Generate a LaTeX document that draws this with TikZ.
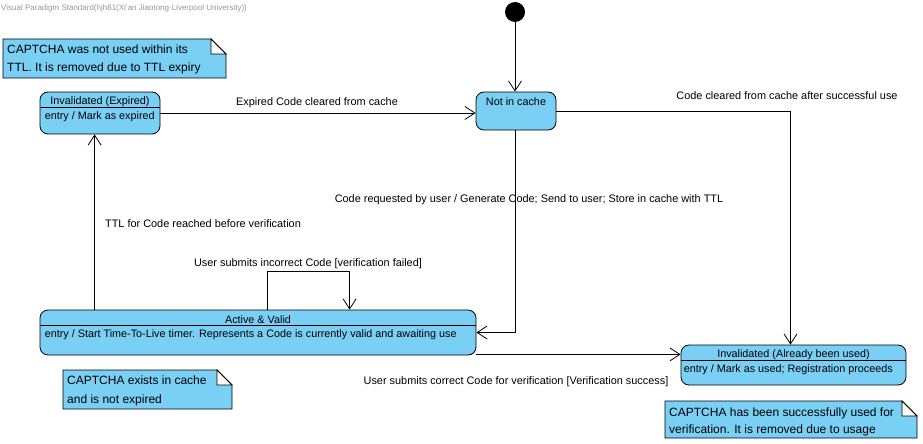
\documentclass[tikz,border=0pt]{standalone}
\usepackage{fontspec}
\setmainfont{Liberation Sans}
\usetikzlibrary{arrows.meta,calc}
\definecolor{stateblue}{RGB}{122,207,245}
\definecolor{headgray}{RGB}{150,150,150}

\tikzset{
    state/.style={draw, fill=stateblue, rounded corners=8pt, line width=0.8pt, inner sep=0pt},
    trans/.style={line width=0.8pt, -{Straight Barb[length=10pt,width=13pt]}},
    txt/.style={font=\fontsize{10.8}{12}\selectfont, inner sep=0pt},
    lbl/.style={font=\fontsize{10.9}{12}\selectfont, inner sep=0pt, yshift=-1.5pt},
    note/.style={draw, fill=stateblue, line width=0.8pt},
    fold/.style={draw, fill=white, line width=0.8pt},
    notetext/.style={font=\fontsize{12}{18.5}\selectfont, align=left, anchor=west, inner sep=0pt}
}

\begin{document}
\begin{tikzpicture}[x=1pt, y=-1pt]
    \useasboundingbox (0,0) rectangle (923,444);

    % header
    \node[anchor=west, text=headgray, font=\fontsize{8}{9}\selectfont, inner sep=0pt] (header) at (1,8)
        {Visual Paradigm Standard(hjh81(Xi'an Jiaotong-Liverpool University))};

    % initial state
    \node[circle, fill=black, minimum size=20pt, inner sep=0pt] (init) at (515,12) {};

    % states
    \node[state, minimum width=80pt, minimum height=38pt] (notcache) at (516,111) {};
    \node[txt] (notcachename) at ($(notcache.north)+(0,10.5)$) {Not in cache};

    \node[state, minimum width=120pt, minimum height=42pt] (expired) at (100,113) {};
    \node[txt] (expiredname) at ($(expired.north)+(0,10.5)$) {Invalidated (Expired)};
    \draw[line width=0.8pt] ($(expired.north west)+(0,16)$) -- ($(expired.north east)+(0,16)$);
    \node[txt, anchor=west] (expiredentry) at ($(expired.north west)+(5,25.5)$) {entry / Mark as expired};

    \node[state, minimum width=436pt, minimum height=45pt] (active) at (258,332.5) {};
    \node[txt] (activename) at ($(active.north)+(0,10.5)$) {Active \& Valid};
    \draw[line width=0.8pt] ($(active.north west)+(0,16)$) -- ($(active.north east)+(0,16)$);
    \node[txt, anchor=west] (activeentry) at ($(active.north west)+(5,25.5)$)
        {entry / Start Time-To-Live timer. Represents a Code is currently valid and awaiting use};

    \node[state, minimum width=225pt, minimum height=40pt] (used) at (793.5,365) {};
    \node[txt] (usedname) at ($(used.north)+(0,10.5)$) {Invalidated (Already been used)};
    \draw[line width=0.8pt] ($(used.north west)+(0,16)$) -- ($(used.north east)+(0,16)$);
    \node[txt, anchor=west] (usedentry) at ($(used.north west)+(3,25.5)$) {entry / Mark as used; Registration proceeds};

    % transitions
    \coordinate (succstart) at ($(active.south east)+(0,-1)$);
    \draw[trans] (init) -- (init |- notcache.north);
    \draw[trans] (expired.east) -- (notcache.west |- expired.east);
    \draw[trans] (notcache.east) -| ($(used.north)+(-3,0)$);
    \draw[trans] (notcache.south -| init) |- (active.east);
    \draw[trans] ($(active.north west)+(55,0)$) -- ($(expired.south west)+(55,0)$);
    \draw[trans] ($(active.north west)+(228,0)$) -- ++(0,-38) -| ($(active.north west)+(310,0)$);
    \draw[trans] (succstart) -- (succstart -| used.west);

    % transition labels
    \node[lbl] (lblexpired) at (317,101) {Expired Code cleared from cache};
    \node[lbl] (lblcleared) at (787,94) {Code cleared from cache after successful use};
    \node[lbl] (lblrequest) at (529,198) {Code requested by user / Generate Code; Send to user; Store in cache with TTL};
    \node[lbl] (lblttl) at (203,222) {TTL for Code reached before verification};
    \node[lbl] (lblfailed) at (308,262) {User submits incorrect Code [verification failed]};
    \node[lbl] (lblsuccess) at (516,380) {User submits correct Code for verification [Verification success]};

    % notes
    \draw[note] (3,39) -- (211,39) -- (226,54) -- (226,78) -- (3,78) -- cycle;
    \draw[fold] (211,39) -- (211,54) -- (226,54) -- cycle;
    \node[notetext] (noteexpired) at (7,59.5) {CAPTCHA was not used within its\\TTL. It is removed due to TTL expiry};

    \draw[note] (63,370) -- (217,370) -- (232,385) -- (232,409) -- (63,409) -- cycle;
    \draw[fold] (217,370) -- (217,385) -- (232,385) -- cycle;
    \node[notetext] (noteactive) at (67,391) {CAPTCHA exists in cache\\and is not expired};

    \draw[note] (665,401) -- (902,401) -- (917,416) -- (917,438) -- (665,438) -- cycle;
    \draw[fold] (902,401) -- (902,416) -- (917,416) -- cycle;
    \node[notetext, font=\fontsize{12}{17}\selectfont] (noteused) at (669,421.5) {CAPTCHA has been successfully used for\\verification. It is removed due to usage};
\end{tikzpicture}
\end{document}
